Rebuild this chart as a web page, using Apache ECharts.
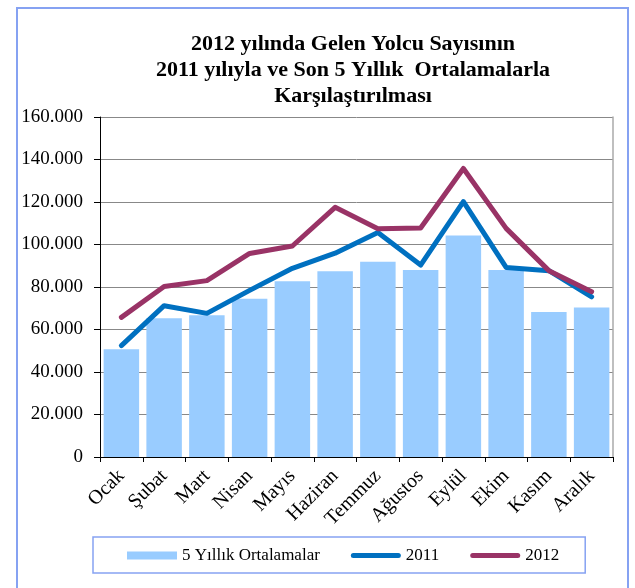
<!DOCTYPE html>
<html>
<head>
<meta charset="utf-8">
<script src="https://cdn.jsdelivr.net/npm/echarts@6/dist/echarts.min.js"></script>
<style>
html,body{margin:0;padding:0;background:#fff;}
#wrap{position:relative;width:635px;height:588px;overflow:hidden;}
#chart{position:absolute;left:0;top:0;width:635px;height:588px;}
#frame{position:absolute;left:16px;top:7px;width:613px;height:600px;border:2px solid #86a2f2;box-sizing:border-box;pointer-events:none;}
</style>
</head>
<body>
<div id="wrap"><div id="chart"></div><div id="frame"></div></div>
<script>
const categories = ['Ocak','Şubat','Mart','Nisan','Mayıs','Haziran','Temmuz','Ağustos','Eylül','Ekim','Kasım','Aralık'];
const avg5 = [50700, 65300, 66700, 74500, 82700, 87400, 91900, 88000, 104200, 88000, 68200, 70300];
const y2011 = [52400, 71200, 67600, 78400, 88800, 95900, 105600, 90300, 120200, 89200, 87700, 75400];
const y2012 = [65700, 80200, 83000, 95800, 99300, 117500, 107400, 107800, 135800, 107600, 87700, 77800];
const yTicks = {min: 0, max: 160000, interval: 20000};

const font = 'Liberation Serif';
const chart = echarts.init(document.getElementById('chart'));
chart.setOption({
  animation: false,
  title: {
    text: '2012 yılında Gelen Yolcu Sayısının\n2011 yılıyla ve Son 5 Yıllık  Ortalamalarla\nKarşılaştırılması',
    left: 353,
    top: 31,
    padding: 0,
    textAlign: 'center',
    textStyle: {fontFamily: font, fontSize: 22, fontWeight: 'bold', lineHeight: 26, color: '#000'}
  },
  legend: {
    left: 93, top: 537,
    padding: [10, 26, 9, 34],
    borderColor: '#86a2f2', borderWidth: 1.5,
    itemGap: 31, itemWidth: 50, itemHeight: 8,
    textStyle: {fontFamily: font, fontSize: 17, color: '#000'},
    data: [
      {name: '5 Yıllık Ortalamalar', icon: 'rect'},
      {name: '2011', icon: 'path://M2.5,0 L47.5,0 A2.5,2.5 0 0 1 47.5,5 L2.5,5 A2.5,2.5 0 0 1 2.5,0 Z'},
      {name: '2012', icon: 'path://M2.5,0 L47.5,0 A2.5,2.5 0 0 1 47.5,5 L2.5,5 A2.5,2.5 0 0 1 2.5,0 Z'}
    ]
  },
  grid: {left: 100, right: 22, top: 117, bottom: 131, containLabel: false},
  xAxis: [{
    type: 'category',
    data: categories,
    axisLine: {lineStyle: {color: '#000', width: 1}},
    axisTick: {show: true, length: 5, lineStyle: {color: '#000'}},
    axisLabel: {rotate: 45, margin: 16, interval: 0, fontFamily: font, fontSize: 20, color: '#000'}
  }, {
    type: 'category',
    data: categories,
    position: 'top',
    axisLine: {lineStyle: {color: '#000', width: 1}},
    axisTick: {show: false},
    axisLabel: {show: false}
  }],
  yAxis: [{
    type: 'value',
    min: yTicks.min, max: yTicks.max, interval: yTicks.interval,
    axisLine: {show: true, lineStyle: {color: '#000', width: 1}},
    axisTick: {show: true, length: 6, lineStyle: {color: '#000'}},
    splitLine: {show: true, lineStyle: {color: '#888', width: 1}},
    axisLabel: {
      margin: 17, fontFamily: font, fontSize: 19, color: '#000',
      formatter: v => v === 0 ? '0' : (v / 1000) + '.000'
    }
  }, {
    type: 'value',
    position: 'right',
    min: yTicks.min, max: yTicks.max, interval: yTicks.interval,
    axisLine: {show: true, lineStyle: {color: '#aaa', width: 1.5}},
    axisTick: {show: false},
    splitLine: {show: false},
    axisLabel: {show: false}
  }],
  series: [{
    name: '5 Yıllık Ortalamalar',
    type: 'bar',
    data: avg5,
    barCategoryGap: '17%',
    itemStyle: {color: '#99ccff'},
    z: 1
  }, {
    name: '2011',
    type: 'line',
    data: y2011,
    symbol: 'none',
    lineStyle: {color: '#0070c0', width: 5, cap: 'round', join: 'round'},
    itemStyle: {color: '#0070c0'},
    z: 3
  }, {
    name: '2012',
    type: 'line',
    data: y2012,
    symbol: 'none',
    lineStyle: {color: '#993366', width: 5, cap: 'round', join: 'round'},
    itemStyle: {color: '#993366'},
    z: 4
  }]
});
</script>
</body>
</html>
